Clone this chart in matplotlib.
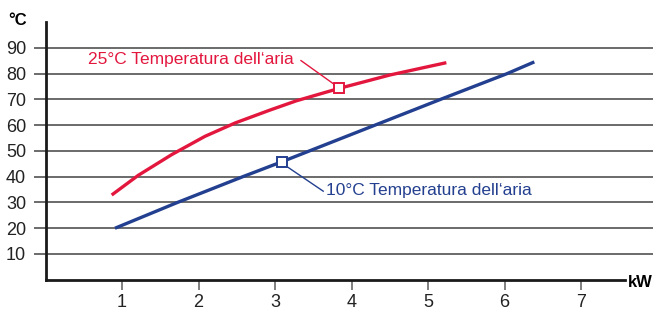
import matplotlib
matplotlib.use("Agg")
import matplotlib.pyplot as plt

plt.rcParams['font.family'] = ['Liberation Sans', 'DejaVu Sans']

# ======================
# データ
# ======================
red_kw = [0.865, 1.21, 1.65, 2.085, 2.48, 2.935, 3.28, 3.837, 4.50, 5.24]
red_temp = [32.9, 40.5, 48.6, 55.7, 60.9, 65.9, 69.5, 74.3, 79.5, 84.3]
red_mark = (3.837, 74.3)
red_label = "25°C Temperatura dell‘aria"

blue_kw = [0.908, 1.715, 2.586, 3.088, 5.16, 6.03, 6.39]
blue_temp = [20.0, 29.9, 40.1, 45.8, 70.0, 80.0, 84.6]
blue_mark = (3.088, 45.8)
blue_label = "10°C Temperatura dell‘aria"

x_ticks = [1, 2, 3, 4, 5, 6, 7]
y_ticks = [10, 20, 30, 40, 50, 60, 70, 80, 90]

RED = "#e3173e"
BLUE = "#233f8f"
GRID = "#6a6a6a"

# ======================
# 図
# ======================
fig = plt.figure(figsize=(6.53, 3.09), dpi=100)
ax = fig.add_axes([0.0697, 0.0947, 0.8874, 0.8333])
ax.set_xlim(0, 7.575)
ax.set_ylim(0, 100)

for y in y_ticks:
    ax.axhline(y, xmin=-0.018, xmax=1.06, color=GRID, lw=1.4,
               clip_on=False, zorder=1)

ax.plot(red_kw, red_temp, color=RED, lw=2.4, solid_capstyle='butt',
        solid_joinstyle='round', zorder=3)
ax.plot(blue_kw, blue_temp, color=BLUE, lw=2.4, solid_capstyle='butt',
        solid_joinstyle='round', zorder=3)

# ラベル
ax.plot([3.34, red_mark[0] - 0.05], [85.1, red_mark[1] + 1.3], color=RED, lw=1.0, zorder=3)
ax.plot(*red_mark, marker='s', ms=7.5, mfc='white', mec=RED, mew=1.4, zorder=4)
ax.text(0.56, 85.5, red_label, color=RED, fontsize=12.5, va='center', ha='left')

ax.plot([blue_mark[0] + 0.05, 3.63], [blue_mark[1] - 1.5, 34.4], color=BLUE, lw=1.0, zorder=3)
ax.plot(*blue_mark, marker='s', ms=7.5, mfc='white', mec=BLUE, mew=1.4, zorder=4)
ax.text(3.67, 34.5, blue_label, color=BLUE, fontsize=12.5, va='center', ha='left')

# 軸
for s in ['top', 'right']:
    ax.spines[s].set_visible(False)
for s in ['left', 'bottom']:
    ax.spines[s].set_linewidth(2.0)
    ax.spines[s].set_color('#1a1a1a')

ax.set_xticks(x_ticks)
ax.set_yticks(y_ticks)
ax.tick_params(axis='x', length=7, width=1.2, color=GRID, labelsize=13,
               labelcolor='#222222', pad=3)
ax.tick_params(axis='y', length=0, labelsize=13, labelcolor='#222222', pad=14)

fig.text(0.012, 0.908, "°C", fontsize=12, fontweight='bold', ha='left', va='bottom')
fig.text(0.961, 0.085, "kW", fontsize=12, fontweight='bold', ha='left', va='center')

fig.savefig("out.png", dpi=100)
